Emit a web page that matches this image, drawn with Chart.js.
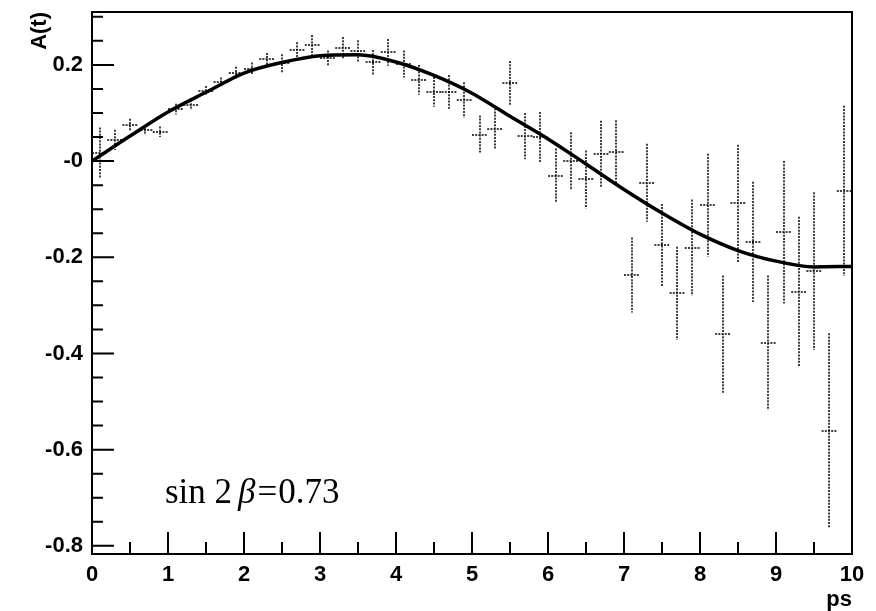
<!DOCTYPE html>
<html>
<head>
<meta charset="utf-8">
<script src="https://cdn.jsdelivr.net/npm/chart.js@4.4.0/dist/chart.umd.min.js"></script>
<style>
  html, body { margin: 0; padding: 0; background: #ffffff; }
  #wrap { width: 876px; height: 611px; }
</style>
</head>
<body>
<div id="wrap"><canvas id="asymChart" width="876" height="611"></canvas></div>
<script>
// bin centres in ps (bins are 0.2 ps wide)
var binT = [0.1, 0.3, 0.5, 0.7, 0.9, 1.1, 1.3, 1.5, 1.7, 1.9,
            2.1, 2.3, 2.5, 2.7, 2.9, 3.1, 3.3, 3.5, 3.7, 3.9,
            4.1, 4.3, 4.5, 4.7, 4.9, 5.1, 5.3, 5.5, 5.7, 5.9,
            6.1, 6.3, 6.5, 6.7, 6.9, 7.1, 7.3, 7.5, 7.7, 7.9,
            8.1, 8.3, 8.5, 8.7, 8.9, 9.1, 9.3, 9.5, 9.7, 9.9];
var binHalfWidth = 0.1;

// measured asymmetry and its error
var asym = [0.017, 0.044, 0.075, 0.065, 0.061, 0.108, 0.117, 0.146, 0.164, 0.184,
            0.192, 0.212, 0.203, 0.231, 0.241, 0.214, 0.236, 0.229, 0.205, 0.226,
            0.202, 0.169, 0.144, 0.144, 0.127, 0.055, 0.067, 0.162, 0.052, 0.050,
            -0.030, 0.000, -0.038, 0.014, 0.019, -0.237, -0.045, -0.175, -0.275, -0.180,
            -0.092, -0.360, -0.088, -0.168, -0.378, -0.148, -0.272, -0.229, -0.561, -0.062];
var asymErr = [0.053, 0.021, 0.013, 0.010, 0.011, 0.011, 0.010, 0.010, 0.010, 0.012,
               0.013, 0.013, 0.019, 0.016, 0.021, 0.016, 0.022, 0.022, 0.026, 0.028,
               0.028, 0.031, 0.031, 0.035, 0.037, 0.040, 0.043, 0.046, 0.048, 0.052,
               0.056, 0.060, 0.060, 0.070, 0.066, 0.078, 0.081, 0.086, 0.097, 0.100,
               0.107, 0.122, 0.122, 0.125, 0.140, 0.148, 0.156, 0.164, 0.203, 0.177];

// fitted curve
var curveT = [0, 0.5, 1.0, 1.5, 2.0, 2.5, 3.0, 3.5, 4.0, 4.5, 5.0,
              5.5, 6.0, 6.5, 7.0, 7.5, 8.0, 8.5, 9.0, 9.5, 10.0];
var curveA = [0.000, 0.052, 0.102, 0.143, 0.183, 0.205, 0.219, 0.221, 0.206, 0.178, 0.141,
              0.093, 0.046, -0.006, -0.059, -0.108, -0.152, -0.186, -0.208, -0.220, -0.219];

var yTickValues = [-0.8, -0.6, -0.4, -0.2, 0, 0.2];
var yTickLabels = ['-0.8', '-0.6', '-0.4', '-0.2', '-0', '0.2'];

var tickFont = { family: '"Liberation Sans", Arial, sans-serif', size: 22, weight: 'bold' };

// frame, inward ticks, error bars and the sin2b label
var rootStyle = {
    id: 'rootStyle',
    afterDatasetsDraw: function (chart) {
        var c = chart.ctx, a = chart.chartArea;
        var xs = chart.scales.x, ys = chart.scales.y;
        c.save();

        // error bars
        c.strokeStyle = '#000';
        c.lineWidth = 1.5;
        c.setLineDash([2, 1.2]);
        for (var i = 0; i < binT.length; i++) {
            var px = Math.round(xs.getPixelForValue(binT[i]));
            var py = Math.round(ys.getPixelForValue(asym[i]));
            c.beginPath();
            c.moveTo(px, ys.getPixelForValue(asym[i] + asymErr[i]));
            c.lineTo(px, ys.getPixelForValue(asym[i] - asymErr[i]));
            c.moveTo(xs.getPixelForValue(binT[i] - binHalfWidth), py);
            c.lineTo(xs.getPixelForValue(binT[i] + binHalfWidth), py);
            c.stroke();
        }
        c.setLineDash([]);

        // ticks
        c.lineWidth = 2;
        c.beginPath();
        for (var t = 0; t <= 10; t += 0.5) {
            var tx = xs.getPixelForValue(t);
            var len = (Math.abs(t - Math.round(t)) < 1e-6) ? 22 : 12;
            c.moveTo(tx, a.bottom);
            c.lineTo(tx, a.bottom - len);
        }
        for (var k = -16; k <= 6; k++) {
            var v = k * 0.05;
            if (v < ys.min || v > ys.max) continue;
            var ty = ys.getPixelForValue(v);
            var l2 = (k % 4 === 0) ? 22 : 11;
            c.moveTo(a.left, ty);
            c.lineTo(a.left + l2, ty);
        }
        c.stroke();

        // frame
        c.strokeRect(a.left, a.top, a.right - a.left, a.bottom - a.top);

        // label
        c.fillStyle = '#000';
        c.textBaseline = 'alphabetic';
        var x0 = 165, base = 503;
        var serif = '"Liberation Serif", "Times New Roman", serif';
        c.font = '35px ' + serif;
        c.fillText('sin 2', x0, base);
        x0 += c.measureText('sin 2').width + 6;
        c.font = 'italic 35px ' + serif;
        c.fillText('\u03b2', x0, base);
        x0 += c.measureText('\u03b2').width + 2;
        c.font = '35px ' + serif;
        c.fillText('=', x0, base);
        x0 += c.measureText('=').width + 1;
        c.fillText('0.73', x0, base);
        c.restore();
    }
};

var ctx = document.getElementById('asymChart').getContext('2d');
var myChart = new Chart(ctx, {
    type: 'scatter',
    data: {
        datasets: [{
            label: 'fit',
            type: 'line',
            data: curveT.map(function (t, i) { return { x: t, y: curveA[i] }; }),
            borderColor: '#000',
            borderWidth: 3.5,
            pointRadius: 0,
            fill: false,
            cubicInterpolationMode: 'monotone'
        }, {
            label: 'data',
            data: binT.map(function (t, i) { return { x: t, y: asym[i] }; }),
            pointRadius: 0
        }]
    },
    options: {
        responsive: false,
        animation: false,
        layout: { padding: { top: 0, right: 24, left: 0, bottom: 0 } },
        plugins: {
            legend: { display: false },
            tooltip: { enabled: false }
        },
        scales: {
            x: {
                type: 'linear',
                min: 0,
                max: 10,
                grid: { display: false, drawTicks: false },
                border: { display: false },
                ticks: { stepSize: 1, color: '#000', font: tickFont, padding: 8, maxRotation: 0 },
                title: {
                    display: true, text: 'ps', align: 'end', color: '#000',
                    font: { family: tickFont.family, size: 22, weight: 'bold', lineHeight: 1 },
                    padding: { top: 0, bottom: 0 }
                },
                afterFit: function (s) { s.height = 57; }
            },
            y: {
                min: -0.817,
                max: 0.31,
                grid: { display: false, drawTicks: false },
                border: { display: false },
                ticks: {
                    color: '#000', font: tickFont, padding: 9,
                    callback: function (v) {
                        var i = yTickValues.indexOf(v);
                        return i >= 0 ? yTickLabels[i] : '';
                    }
                },
                afterBuildTicks: function (s) {
                    s.ticks = yTickValues.map(function (v) { return { value: v }; });
                },
                title: {
                    display: true, text: 'A(t)', align: 'end', color: '#000',
                    font: { family: tickFont.family, size: 22, weight: 'bold', lineHeight: 1 },
                    padding: { top: 29, bottom: 0 }
                },
                afterFit: function (s) {
                    s.width = 92;
                    s.paddingTop = 12;
                    s.paddingBottom = 12;
                }
            }
        }
    },
    plugins: [rootStyle]
});
</script>
</body>
</html>
